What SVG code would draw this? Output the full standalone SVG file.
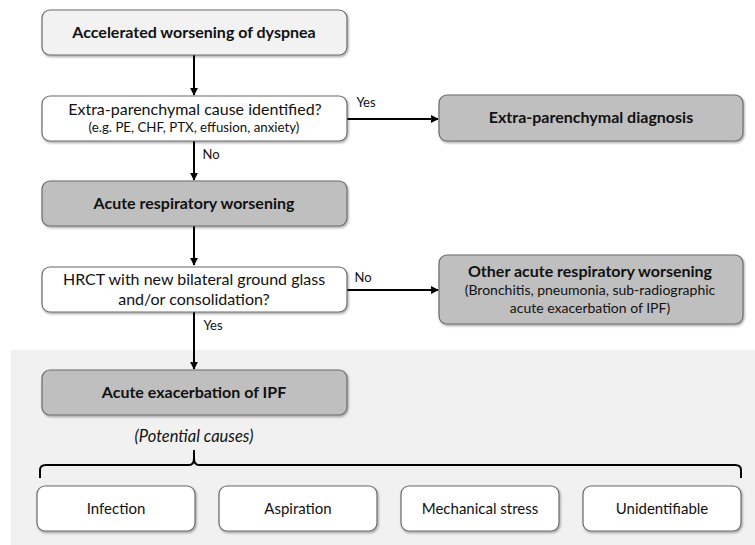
<svg xmlns="http://www.w3.org/2000/svg" width="755" height="545" viewBox="0 0 755 545">
<defs>
<style>
.t{font-family:Lato,"Liberation Sans",sans-serif;fill:#111;text-anchor:middle}
.b{font-weight:bold}
.box{stroke:#6b6b6b;stroke-width:1.2}
.w{fill:#ffffff}
.l{fill:#f2f2f2}
.g{fill:#bfbfbf}
.c{stroke:#000;stroke-width:2;fill:none}
</style>
<filter id="sh" x="-5%" y="-10%" width="110%" height="130%">
<feDropShadow dx="1" dy="1.5" stdDeviation="1" flood-color="#000" flood-opacity="0.35"/>
</filter>
<marker id="ah" viewBox="0 0 10 10" refX="9" refY="5" markerWidth="4" markerHeight="4" orient="auto" markerUnits="strokeWidth">
<path d="M0,0 L10,5 L0,10 z" fill="#000"/>
</marker>
</defs>
<rect width="755" height="545" fill="#ffffff"/>
<rect x="11" y="350" width="744" height="195" fill="#f1f1f1"/>

<g id="connectors">
<line class="c" x1="194" y1="55" x2="194" y2="95" marker-end="url(#ah)"/>
<line class="c" x1="194" y1="141" x2="194" y2="180" marker-end="url(#ah)"/>
<line class="c" x1="194" y1="226" x2="194" y2="265" marker-end="url(#ah)"/>
<line class="c" x1="194" y1="312" x2="194" y2="369" marker-end="url(#ah)"/>
<line class="c" x1="347" y1="119" x2="438" y2="119" marker-end="url(#ah)"/>
<line class="c" x1="347" y1="290" x2="438" y2="290" marker-end="url(#ah)"/>
<path class="c" d="M40,478 L40,470 Q40,465 46,465 L189,465 Q194,465 194,458 L194,450 M194,458 Q194,465 199,465 L735,465 Q741,465 741,470 L741,478"/>
<text class="t" x="366" y="107" font-size="13">Yes</text>
<text class="t" x="211" y="159" font-size="13">No</text>
<text class="t" x="363" y="282" font-size="13">No</text>
<text class="t" x="213" y="330" font-size="13">Yes</text>
</g>

<g id="n1">
<rect class="box l" x="42" y="10" width="305" height="45" rx="8" filter="url(#sh)"/>
<text class="t b" x="194" y="38" font-size="16">Accelerated worsening of dyspnea</text>
</g>
<g id="n2">
<rect class="box w" x="42" y="96" width="305" height="45" rx="8" filter="url(#sh)"/>
<text class="t" x="195" y="115" font-size="16">Extra-parenchymal cause identified?</text>
<text class="t" x="194" y="132" font-size="13.3">(e.g. PE, CHF, PTX, effusion, anxiety)</text>
</g>
<g id="n3">
<rect class="box g" x="439" y="95" width="304" height="46" rx="8" filter="url(#sh)"/>
<text class="t b" x="591" y="123" font-size="16">Extra-parenchymal diagnosis</text>
</g>
<g id="n4">
<rect class="box g" x="42" y="181" width="305" height="45" rx="8" filter="url(#sh)"/>
<text class="t b" x="194" y="209" font-size="16">Acute respiratory worsening</text>
</g>
<g id="n5">
<rect class="box w" x="42" y="267" width="305" height="45" rx="8" filter="url(#sh)"/>
<text class="t" x="194" y="285" font-size="16">HRCT with new bilateral ground glass</text>
<text class="t" x="194" y="305" font-size="16">and/or consolidation?</text>
</g>
<g id="n6">
<rect class="box g" x="439" y="255" width="304" height="69" rx="8" filter="url(#sh)"/>
<text class="t b" x="590" y="277" font-size="16">Other acute respiratory worsening</text>
<text class="t" x="590" y="295" font-size="14">(Bronchitis, pneumonia, sub-radiographic</text>
<text class="t" x="590" y="313" font-size="14">acute exacerbation of IPF)</text>
</g>
<g id="n7">
<rect class="box g" x="42" y="370" width="305" height="45" rx="8" filter="url(#sh)"/>
<text class="t b" x="194" y="398" font-size="16">Acute exacerbation of IPF</text>
</g>
<text class="t" x="194" y="442" font-size="16.5" font-style="italic">(Potential causes)</text>
<g id="n8">
<rect class="box w" x="37" y="486" width="158" height="45" rx="8" filter="url(#sh)"/>
<text class="t" x="116" y="514" font-size="15">Infection</text>
</g>
<g id="n9">
<rect class="box w" x="219" y="486" width="158" height="45" rx="8" filter="url(#sh)"/>
<text class="t" x="298" y="514" font-size="15">Aspiration</text>
</g>
<g id="n10">
<rect class="box w" x="401" y="486" width="158" height="45" rx="8" filter="url(#sh)"/>
<text class="t" x="480" y="514" font-size="15">Mechanical stress</text>
</g>
<g id="n11">
<rect class="box w" x="583" y="486" width="158" height="45" rx="8" filter="url(#sh)"/>
<text class="t" x="662" y="514" font-size="15">Unidentifiable</text>
</g>
</svg>
